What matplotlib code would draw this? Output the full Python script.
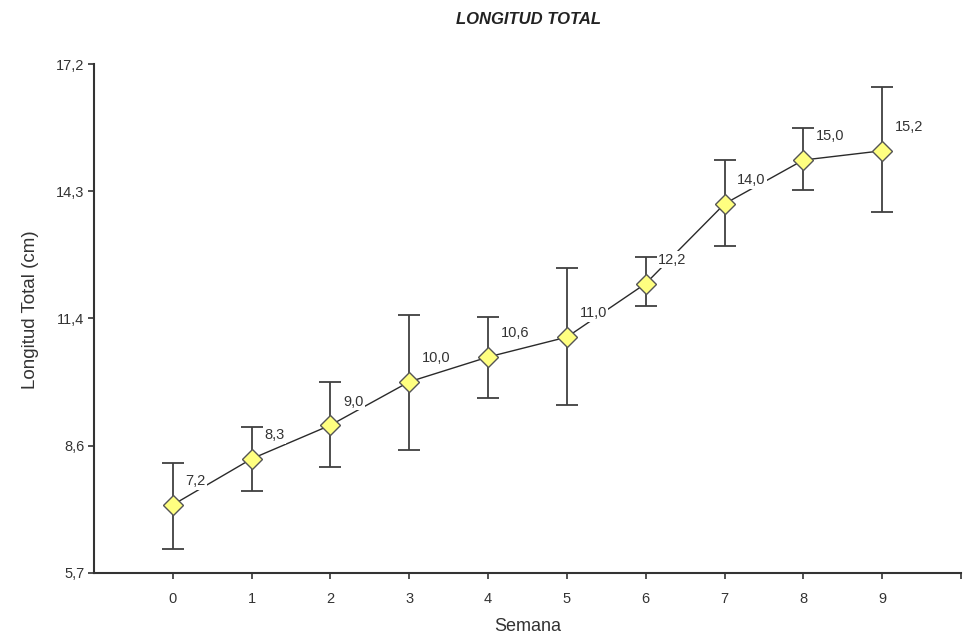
import matplotlib
matplotlib.use("Agg")
import matplotlib.pyplot as plt
from matplotlib.font_manager import fontManager

semana = [0, 1, 2, 3, 4, 5, 6, 7, 8, 9]
media = [7.24, 8.28, 9.04, 10.02, 10.58, 11.03, 12.24, 14.04, 15.03, 15.24]
err_sup = [8.19, 9.00, 10.02, 11.53, 11.48, 12.59, 12.84, 15.03, 15.75, 16.68]
err_inf = [6.24, 7.55, 8.09, 8.48, 9.65, 9.50, 11.73, 13.09, 14.35, 13.86]
etiquetas = ["7,2", "8,3", "9,0", "10,0", "10,6", "11,0", "12,2", "14,0", "15,0", "15,2"]
y_ticks = [5.7, 8.575, 11.45, 14.325, 17.2]
y_ticklabels = ["5,7", "8,6", "11,4", "14,3", "17,2"]
x_ticks = [0, 1, 2, 3, 4, 5, 6, 7, 8, 9, 10]
x_ticklabels = ["0", "1", "2", "3", "4", "5", "6", "7", "8", "9", ""]

names = {f.name for f in fontManager.ttflist}
title_family = "Liberation Sans Narrow" if "Liberation Sans Narrow" in names else "Liberation Sans"
title_size = 14 if title_family == "Liberation Sans Narrow" else 12

plt.rcParams["font.family"] = ["Liberation Sans", "DejaVu Sans"]
txt = "#333333"
axc = "#333333"

fig = plt.figure(figsize=(9.63, 6.36), dpi=100)
ax = fig.add_axes([94 / 963, 1 - 573 / 636, (961 - 94) / 963, (573 - 64) / 636])

yerr = [[m - lo for m, lo in zip(media, err_inf)], [hi - m for m, hi in zip(media, err_sup)]]
ax.errorbar(semana, media, yerr=yerr, fmt="none", ecolor="#404040", elinewidth=1.3,
            capsize=8, capthick=1.3, zorder=2)
ax.plot(semana, media, color="#2a2a2a", lw=1.0, zorder=1)
ax.plot(semana, media, ls="none", marker="D", markersize=10.0, markerfacecolor="#ffff80",
        markeredgecolor="#555555", markeredgewidth=1.0, zorder=4)

for x, y, s in zip(semana, media, etiquetas):
    ax.annotate(s, (x, y), xytext=(9, 17), textcoords="offset points", ha="left", va="center",
                fontsize=10.5, color=txt, zorder=3,
                bbox=dict(boxstyle="square,pad=0.1", fc="white", ec="none"))

ax.set_xlim(-1, 10)
ax.set_ylim(5.7, 17.2)
ax.set_xticks(x_ticks)
ax.set_xticklabels(x_ticklabels)
ax.set_yticks(y_ticks)
ax.set_yticklabels(y_ticklabels)
ax.tick_params(axis="both", colors=axc, labelcolor=txt, labelsize=10.5, length=4, width=1.2, pad=3)
ax.tick_params(axis="x", pad=10)

for side in ["top", "right"]:
    ax.spines[side].set_visible(False)
for side in ["left", "bottom"]:
    ax.spines[side].set_color(axc)
    ax.spines[side].set_linewidth(1.5)

ax.set_xlabel("Semana", fontsize=13, color=txt, labelpad=8)
ax.set_ylabel("Longitud Total (cm)", fontsize=13.5, color=txt)
ax.yaxis.set_label_coords(-0.064, 0.517)

fig.text(528 / 963, 1 - 19 / 636, "LONGITUD TOTAL", ha="center", va="center",
         fontsize=title_size, fontweight="bold", fontstyle="italic", color="#222222",
         family=[title_family, "DejaVu Sans"])

fig.savefig("out.png", dpi=100)
